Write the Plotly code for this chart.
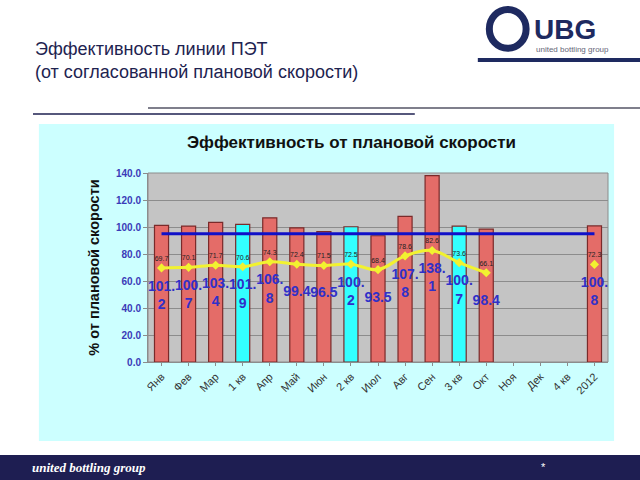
"""
Efficiency of the PET line vs agreed planned speed (UBG slide)
"""
import plotly.graph_objects as go

categories = ['Янв', 'Фев', 'Мар', '1 кв', 'Апр', 'Май', 'Июн', '2 кв', 'Июл',
              'Авг', 'Сен', '3 кв', 'Окт', 'Ноя', 'Дек', '4 кв', '2012']
efficiency = [101.2, 100.7, 103.4, 101.9, 106.8, 99.4, 96.5, 100.2, 93.5,
              107.8, 138.1, 100.7, 98.4, None, None, None, 100.8]
oee = [69.7, 70.1, 71.7, 70.6, 74.3, 72.4, 71.5, 72.5, 68.4,
       78.6, 82.6, 73.6, 66.1, None, None, None, None]
oee_year = [None] * 16 + [72.3]
target = [95.0] * 17

quarters = {'1 кв', '2 кв', '3 кв', '4 кв'}
bar_colors = ['#33ffff' if c in quarters else '#e46c68' for c in categories]


def wrap_label(v):
    # Excel wraps the narrow data labels after 4 characters
    if v is None:
        return ''
    s = f'{v:.1f}'
    return s if len(s) <= 4 else s[:4] + '<br>' + s[4:]


fig = go.Figure()

fig.add_trace(go.Bar(
    x=categories, y=efficiency,
    marker=dict(color=bar_colors, line=dict(color='#7a2a2a', width=1.2)),
    width=0.52,
    hoverinfo='x+y',
))

fig.add_trace(go.Scatter(
    x=categories, y=target, mode='lines',
    line=dict(color='#1010c8', width=3),
))

fig.add_trace(go.Scatter(
    x=categories, y=oee, mode='lines+markers+text',
    line=dict(color='#f2f230', width=3, shape='spline'),
    marker=dict(color='#f2f230', size=7, symbol='diamond'),
    text=[f'{v:.1f}' if v is not None else '' for v in oee],
    textposition='top center',
    textfont=dict(size=7, color='#222222', family='Arial'),
    connectgaps=False,
))

fig.add_trace(go.Scatter(
    x=categories, y=oee_year, mode='markers+text',
    marker=dict(color='#f2f230', size=7, symbol='diamond'),
    text=[f'{v:.1f}' if v is not None else '' for v in oee_year],
    textposition='top center',
    textfont=dict(size=7, color='#222222', family='Arial'),
))

# blue efficiency labels sit a little under the yellow points
label_y = []
for a, b in zip(oee, oee_year):
    v = a if a is not None else b
    label_y.append(v - 21 if v is not None else None)

fig.add_trace(go.Scatter(
    x=categories, y=label_y, mode='text',
    text=[f'<b>{wrap_label(v)}</b>' if v is not None else '' for v in efficiency],
    textposition='middle center',
    textfont=dict(size=14, color='#3030c8', family='Arial'),
))

fig.update_layout(
    width=640, height=480,
    margin=dict(l=148, r=32, t=173, b=118, autoexpand=False),
    paper_bgcolor='white',
    plot_bgcolor='#c4c4c4',
    showlegend=False,
    bargap=0.4,
    font=dict(family='Arial, Liberation Sans, sans-serif'),
)

fig.update_yaxes(
    range=[0, 140], dtick=20, tickformat='.1f',
    tickfont=dict(size=10, color='#3a3ab8'),
    tickprefix='<b>', ticksuffix='</b>',
    gridcolor='#8c8c8c', gridwidth=1,
    showline=True, linecolor='#8c8c8c',
    ticks='outside', tickcolor='#8c8c8c', ticklen=4,
    title=dict(text='<b>% от плановой скорости</b>',
               font=dict(size=14.5, color='#111111'), standoff=12),
    zeroline=False,
)
fig.update_xaxes(
    range=[-0.5, 16.5],
    tickangle=-45, tickfont=dict(size=11, color='#333333'),
    showline=True, linecolor='#8c8c8c', mirror=False,
    ticks='outside', tickcolor='#8c8c8c', ticklen=3,
)

shapes = [
    # light cyan chart box
    dict(type='rect', xref='paper', yref='paper', layer='below',
         x0=-0.235, x1=1.011, y0=-0.413, y1=1.254,
         fillcolor='#ccffff', line=dict(color='#ccffff')),
    # gray plot area on top of the box
    dict(type='rect', xref='paper', yref='paper', layer='below',
         x0=0, x1=1, y0=0, y1=1,
         fillcolor='#c4c4c4', line=dict(color='#8c8c8c', width=1)),
    # rules under the slide title
    dict(type='line', xref='paper', yref='paper',
         x0=-0.25, x1=0.58, y0=1.312, y1=1.312,
         line=dict(color='#1e2050', width=1.5)),
    dict(type='line', xref='paper', yref='paper',
         x0=0.0, x1=1.07, y0=1.344, y1=1.344,
         line=dict(color='#555566', width=1.5)),
    # footer band
    dict(type='rect', xref='paper', yref='paper',
         x0=-0.33, x1=1.08, y0=-0.63, y1=-0.492,
         fillcolor='#1e1e52', line=dict(width=0)),
    # logo swirl
    dict(type='circle', xref='paper', yref='paper',
         x0=0.742, x1=0.822, y0=1.66, y1=1.865,
         line=dict(color='#1e2a60', width=7)),
    dict(type='line', xref='paper', yref='paper',
         x0=0.717, x1=1.07, y0=1.598, y1=1.598,
         line=dict(color='#1e2a60', width=4)),
]

annotations = [
    dict(text='<b>Эффективность от плановой скорости</b>', xref='paper', yref='paper',
         x=0.443, y=1.159, xanchor='center', yanchor='middle',
         showarrow=False, font=dict(size=17, color='#111111')),
    dict(text='Эффективность линии ПЭТ<br>(от согласованной плановой скорости)',
         xref='paper', yref='paper', x=-0.25, y=1.593, xanchor='left', yanchor='middle',
         align='left', showarrow=False, font=dict(size=18, color='#1e2350')),
    dict(text='<b>UBG</b>', xref='paper', yref='paper', x=0.835, y=1.757,
         xanchor='left', yanchor='middle', showarrow=False,
         font=dict(size=28, color='#1e2a60')),
    dict(text='united bottling group', xref='paper', yref='paper', x=0.84, y=1.651,
         xanchor='left', yanchor='middle', showarrow=False,
         font=dict(size=8, color='#666677')),
    dict(text='<b><i>united bottling group</i></b>', xref='paper', yref='paper',
         x=-0.257, y=-0.556, xanchor='left', yanchor='middle', showarrow=False,
         font=dict(size=13, color='white', family='Liberation Serif')),
    dict(text='*', xref='paper', yref='paper', x=0.859, y=-0.556,
         xanchor='center', yanchor='middle',
         showarrow=False, font=dict(size=11, color='white')),
]

fig.update_layout(shapes=shapes, annotations=annotations)

fig.write_html("out.html", config={'displayModeBar': False},
               post_script="document.body.style.margin='0';")
